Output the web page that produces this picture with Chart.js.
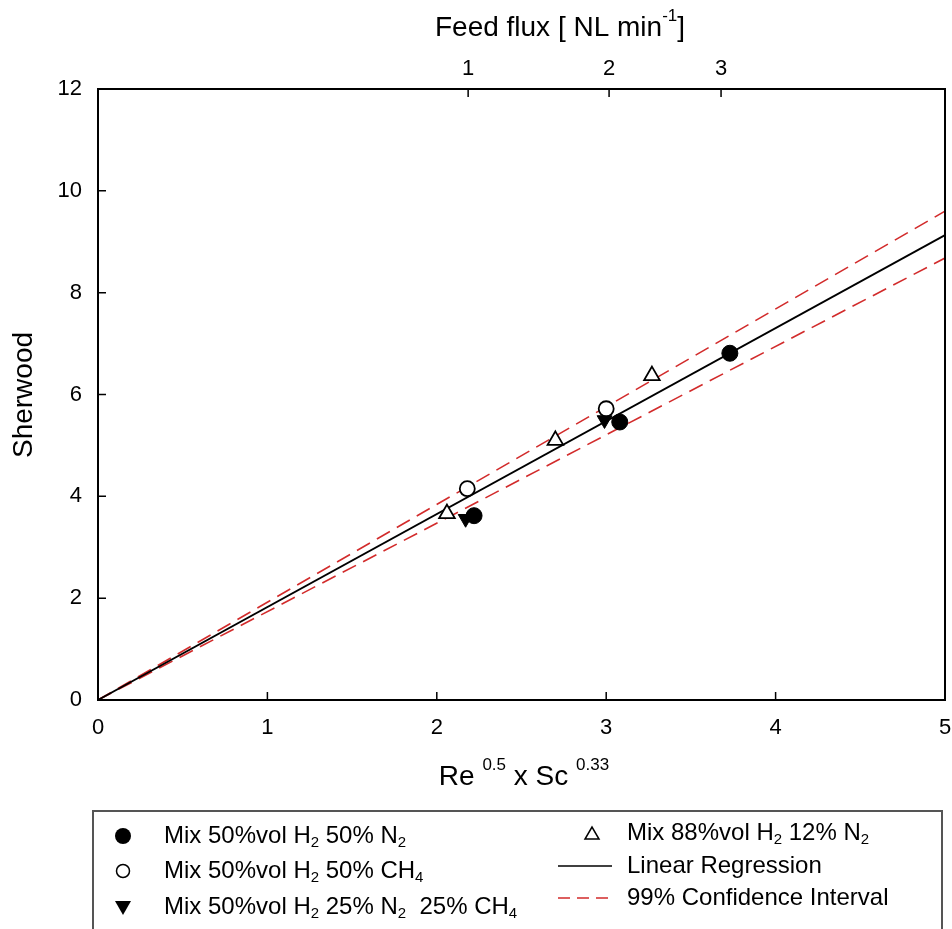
<!DOCTYPE html>
<html>
<head>
<meta charset="utf-8">
<script src="https://cdn.jsdelivr.net/npm/chart.js@4.4.0/dist/chart.umd.min.js"></script>
<style>
  body { margin: 0; background: #fff; }
  #wrap { width: 952px; height: 929px; overflow: hidden; }
</style>
</head>
<body>
<div id="wrap"><canvas id="chart" width="952" height="929"></canvas></div>
<script>
// data
var mixN2X = [2.22, 3.08, 3.73];
var mixN2Y = [3.62, 5.46, 6.81];
var mixCH4X = [2.18, 3.00];
var mixCH4Y = [4.15, 5.72];
var mixTernX = [2.17, 2.99];
var mixTernY = [3.56, 5.50];
var mix88X = [2.06, 2.70, 3.27];
var mix88Y = [3.66, 5.10, 6.37];
var fitX = [0, 5];
var fitY = [0, 9.13];
var ciUpperY = [0, 9.60];
var ciLowerY = [0, 8.68];
var xTicks = [0, 1, 2, 3, 4, 5];
var yTicks = [0, 2, 4, 6, 8, 10, 12];
var fluxLabels = ['1', '2', '3'];
var fluxPos = [2.185, 3.017, 3.678];

var FONT = 'Arial, "Liberation Sans", sans-serif';
var RED = '#d22b2b';

function pts(xs, ys) {
    return xs.map(function(x, i) { return { x: x, y: ys[i] }; });
}

// text with sub / superscripts, segs = [[text, 'n'|'sup'|'sub'], ...]
function richWidth(ctx, segs, size) {
    var w = 0;
    segs.forEach(function(s) {
        var fs = s[1] === 'n' ? size : Math.round(size * 0.62);
        ctx.font = fs + 'px ' + FONT;
        w += ctx.measureText(s[0]).width;
    });
    return w;
}

function richText(ctx, segs, x, y, size) {
    ctx.textBaseline = 'middle';
    ctx.textAlign = 'left';
    segs.forEach(function(s) {
        var fs = size, dy = 0;
        if (s[1] === 'sup') { fs = Math.round(size * 0.62); dy = -size * 0.4; }
        if (s[1] === 'sub') { fs = Math.round(size * 0.62); dy = size * 0.3; }
        ctx.font = fs + 'px ' + FONT;
        ctx.fillText(s[0], x, y + dy);
        x += ctx.measureText(s[0]).width;
    });
}

var decor = {
    id: 'decor',
    afterDraw: function(chart) {
        var ctx = chart.ctx;
        var a = chart.chartArea;
        var sx = chart.scales.x, sy = chart.scales.y;
        ctx.save();
        ctx.strokeStyle = '#000';
        ctx.lineWidth = 2;
        ctx.strokeRect(a.left, a.top, a.right - a.left, a.bottom - a.top);

        // inward tick marks
        ctx.lineWidth = 1.5;
        ctx.beginPath();
        xTicks.forEach(function(v) {
            var px = sx.getPixelForValue(v);
            ctx.moveTo(px, a.bottom); ctx.lineTo(px, a.bottom - 8);
        });
        fluxPos.forEach(function(v) {
            var px = sx.getPixelForValue(v);
            ctx.moveTo(px, a.top); ctx.lineTo(px, a.top + 8);
        });
        yTicks.forEach(function(v) {
            var py = sy.getPixelForValue(v);
            ctx.moveTo(a.left, py); ctx.lineTo(a.left + 8, py);
        });
        ctx.stroke();

        ctx.fillStyle = '#000';
        // top title
        var top = [['Feed flux [ NL min', 'n'], ['-1', 'sup'], [']', 'n']];
        var w = richWidth(ctx, top, 28);
        richText(ctx, top, 560 - w / 2, 28, 28);
        // bottom title
        var bot = [['Re ', 'n'], ['0.5', 'sup'], [' x Sc ', 'n'], ['0.33', 'sup']];
        w = richWidth(ctx, bot, 28);
        richText(ctx, bot, 524 - w / 2, 777, 28);
        // y title
        ctx.save();
        ctx.translate(24, 395);
        ctx.rotate(-Math.PI / 2);
        ctx.font = '28px ' + FONT;
        ctx.textAlign = 'center';
        ctx.textBaseline = 'middle';
        ctx.fillText('Sherwood', 0, 0);
        ctx.restore();

        // legend box
        ctx.strokeStyle = '#555';
        ctx.lineWidth = 2;
        ctx.strokeRect(93, 811, 849, 140);

        var rowsL = [836, 871, 907];
        var rowsR = [833, 866, 898];
        ctx.fillStyle = '#000';
        ctx.strokeStyle = '#000';
        ctx.lineWidth = 1.5;
        // filled circle
        ctx.beginPath(); ctx.arc(123, rowsL[0], 8, 0, Math.PI * 2); ctx.fill();
        // open circle
        ctx.beginPath(); ctx.arc(123, rowsL[1], 6.5, 0, Math.PI * 2); ctx.stroke();
        // down triangle
        ctx.beginPath();
        ctx.moveTo(115, rowsL[2] - 6); ctx.lineTo(131, rowsL[2] - 6); ctx.lineTo(123, rowsL[2] + 8);
        ctx.closePath(); ctx.fill();
        // open up triangle
        ctx.beginPath();
        ctx.moveTo(585, rowsR[0] + 6); ctx.lineTo(599, rowsR[0] + 6); ctx.lineTo(592, rowsR[0] - 6);
        ctx.closePath(); ctx.stroke();
        // regression sample
        ctx.beginPath(); ctx.moveTo(558, rowsR[1]); ctx.lineTo(612, rowsR[1]); ctx.stroke();
        // CI sample
        ctx.strokeStyle = RED;
        ctx.setLineDash([12, 7]);
        ctx.beginPath(); ctx.moveTo(558, rowsR[2]); ctx.lineTo(614, rowsR[2]); ctx.stroke();
        ctx.setLineDash([]);

        var L = 24;
        richText(ctx, [['Mix 50%vol H', 'n'], ['2', 'sub'], [' 50% N', 'n'], ['2', 'sub']], 164, rowsL[0], L);
        richText(ctx, [['Mix 50%vol H', 'n'], ['2', 'sub'], [' 50% CH', 'n'], ['4', 'sub']], 164, rowsL[1], L);
        richText(ctx, [['Mix 50%vol H', 'n'], ['2', 'sub'], [' 25% N', 'n'], ['2', 'sub'], ['  25% CH', 'n'], ['4', 'sub']], 164, rowsL[2], L);
        richText(ctx, [['Mix 88%vol H', 'n'], ['2', 'sub'], [' 12% N', 'n'], ['2', 'sub']], 627, rowsR[0], L);
        richText(ctx, [['Linear Regression', 'n']], 627, rowsR[1], L);
        richText(ctx, [['99% Confidence Interval', 'n']], 627, rowsR[2], L);
        ctx.restore();
    }
};

var tickFont = { family: FONT, size: 22 };

function noSidePad(s) {
    s.paddingLeft = 0;
    s.paddingRight = 0;
}

new Chart(document.getElementById('chart'), {
    type: 'scatter',
    data: {
        datasets: [
            {
                label: 'Mix 50%vol H2 50% N2',
                data: pts(mixN2X, mixN2Y),
                pointStyle: 'circle', pointRadius: 8,
                backgroundColor: '#000', borderColor: '#000', borderWidth: 1
            },
            {
                label: 'Mix 50%vol H2 50% CH4',
                data: pts(mixCH4X, mixCH4Y),
                pointStyle: 'circle', pointRadius: 7.5,
                backgroundColor: '#fff', borderColor: '#000', borderWidth: 1.8
            },
            {
                label: 'Mix 50%vol H2 25% N2 25% CH4',
                data: pts(mixTernX, mixTernY),
                pointStyle: 'triangle', pointRadius: 8.5, rotation: 180,
                backgroundColor: '#000', borderColor: '#000', borderWidth: 1
            },
            {
                label: 'Mix 88%vol H2 12% N2',
                data: pts(mix88X, mix88Y),
                pointStyle: 'triangle', pointRadius: 9,
                backgroundColor: '#fff', borderColor: '#000', borderWidth: 1.8
            },
            {
                label: 'Linear Regression',
                data: pts(fitX, fitY),
                showLine: true, pointRadius: 0,
                borderColor: '#000', borderWidth: 1.8
            },
            {
                label: '99% Confidence Interval',
                data: pts(fitX, ciUpperY),
                showLine: true, pointRadius: 0,
                borderColor: RED, borderWidth: 1.6, borderDash: [15, 8]
            },
            {
                label: '99% Confidence Interval (lower)',
                data: pts(fitX, ciLowerY),
                showLine: true, pointRadius: 0,
                borderColor: RED, borderWidth: 1.6, borderDash: [15, 8]
            }
        ]
    },
    options: {
        responsive: false,
        animation: false,
        devicePixelRatio: 1,
        layout: { autoPadding: false, padding: { left: 0, right: 7, top: 0, bottom: 0 } },
        plugins: {
            legend: { display: false },
            tooltip: { enabled: false }
        },
        scales: {
            x: {
                type: 'linear', position: 'bottom', min: 0, max: 5,
                afterBuildTicks: function(s) { s.ticks = xTicks.map(function(v) { return { value: v }; }); },
                ticks: { font: tickFont, color: '#000', padding: 15 },
                grid: { display: false, drawTicks: false },
                border: { display: false },
                afterFit: function(s) { s.height = 229; noSidePad(s); }
            },
            xTop: {
                type: 'linear', position: 'top', min: 0, max: 5,
                afterBuildTicks: function(s) { s.ticks = fluxPos.map(function(v) { return { value: v }; }); },
                ticks: {
                    font: tickFont, color: '#000', padding: 7,
                    callback: function(v, i) { return fluxLabels[i]; }
                },
                grid: { display: false, drawTicks: false },
                border: { display: false },
                afterFit: function(s) { s.height = 89; noSidePad(s); }
            },
            y: {
                type: 'linear', position: 'left', min: 0, max: 12,
                afterBuildTicks: function(s) { s.ticks = yTicks.map(function(v) { return { value: v }; }); },
                ticks: { font: tickFont, color: '#000', padding: 16 },
                grid: { display: false, drawTicks: false },
                border: { display: false },
                afterFit: function(s) { s.width = 98; }
            }
        }
    },
    plugins: [decor]
});
</script>
</body>
</html>
